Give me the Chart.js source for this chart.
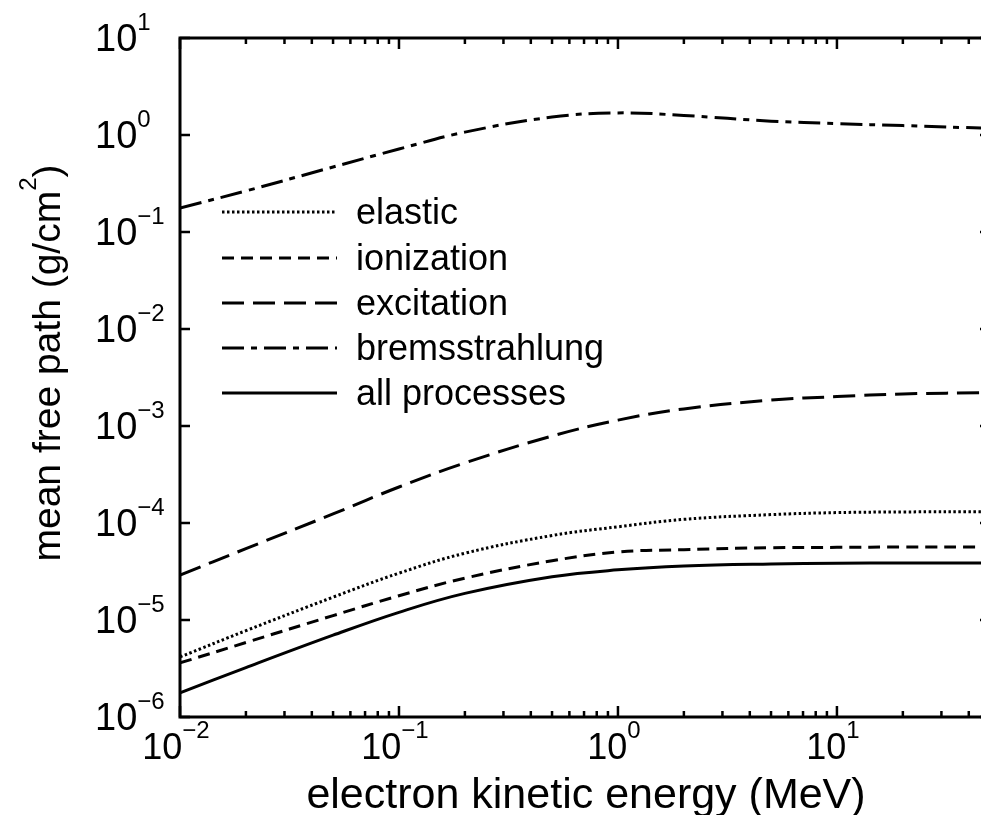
<!DOCTYPE html>
<html>
<head>
<meta charset="utf-8">
<script src="https://cdn.jsdelivr.net/npm/chart.js@4.4.0/dist/chart.umd.min.js"></script>
<style>
    html, body { margin: 0; padding: 0; overflow: hidden; background: #fff; }
    #wrap { width: 981px; height: 815px; overflow: hidden; position: relative; }
    canvas { position: absolute; left: 0; top: 0; }
</style>
</head>
<body>
<div id="wrap"><canvas id="mfpChart" width="1000" height="815" style="width:1000px;height:815px"></canvas></div>
<script>
const energy = [0.01, 0.02, 0.05, 0.1, 0.2, 0.5, 1, 2, 5, 10, 20, 50];
const elastic = [4.16e-6, 7.76e-6, 1.72e-5, 3.04e-5, 4.88e-5, 7.43e-5, 9.14e-5, 1.09e-4, 1.22e-4, 1.28e-4, 1.30e-4, 1.31e-4];
const ionization = [3.61e-6, 5.86e-6, 1.11e-5, 1.78e-5, 2.70e-5, 4.08e-5, 5.02e-5, 5.31e-5, 5.56e-5, 5.61e-5, 5.66e-5, 5.66e-5];
const excitation = [2.91e-5, 5.44e-5, 1.24e-4, 2.35e-4, 4.16e-4, 7.88e-4, 1.15e-3, 1.50e-3, 1.85e-3, 2.01e-3, 2.14e-3, 2.21e-3];
const bremsstrahlung = [0.177, 0.265, 0.468, 0.717, 1.07, 1.53, 1.69, 1.59, 1.39, 1.31, 1.25, 1.17];
const allProcesses = [1.77e-6, 3.23e-6, 6.97e-6, 1.20e-5, 1.88e-5, 2.79e-5, 3.29e-5, 3.60e-5, 3.78e-5, 3.84e-5, 3.87e-5, 3.87e-5];

const xTickExps = [-2, -1, 0, 1];
const yTickExps = [-6, -5, -4, -3, -2, -1, 0, 1];

const FONT = '"Liberation Sans", Arial, Helvetica, sans-serif';

function pts(values) {
    return energy.map((e, i) => ({ x: e, y: values[i] }));
}

function expText(n) {
    return n < 0 ? '\u2212' + Math.abs(n) : String(n);
}

const frame = {
    id: 'frame',
    afterDraw(chart) {
        const ctx = chart.ctx;
        const a = chart.chartArea;
        const xs = chart.scales.x;
        const ys = chart.scales.y;
        ctx.save();
        ctx.strokeStyle = '#000';
        ctx.fillStyle = '#000';
        ctx.lineWidth = 3;
        ctx.strokeRect(a.left, a.top, a.right - a.left, a.bottom - a.top);

        // x ticks, bottom and top, pointing inward
        ctx.lineWidth = 2.5;
        for (let d = -2; d <= 1; d++) {
            for (let m = 1; m <= 9; m++) {
                const v = m * Math.pow(10, d);
                if (v > 50) break;
                const px = xs.getPixelForValue(v);
                const len = m === 1 ? 11 : 6;
                ctx.beginPath();
                ctx.moveTo(px, a.bottom);
                ctx.lineTo(px, a.bottom - len);
                ctx.moveTo(px, a.top);
                ctx.lineTo(px, a.top + len);
                ctx.stroke();
            }
        }
        // y ticks, left and right
        yTickExps.forEach(n => {
            const py = ys.getPixelForValue(Math.pow(10, n));
            ctx.beginPath();
            ctx.moveTo(a.left, py);
            ctx.lineTo(a.left + 10, py);
            ctx.moveTo(a.right, py);
            ctx.lineTo(a.right - 10, py);
            ctx.stroke();
        });

        // x tick labels
        ctx.textBaseline = 'alphabetic';
        xTickExps.forEach(n => {
            const px = xs.getPixelForValue(Math.pow(10, n));
            ctx.font = '36px ' + FONT;
            const w1 = ctx.measureText('10').width;
            ctx.font = '24px ' + FONT;
            const w2 = ctx.measureText(expText(n)).width;
            const x0 = px - (w1 + w2) / 2 - 4;
            ctx.textAlign = 'left';
            ctx.font = '36px ' + FONT;
            ctx.fillText('10', x0, 759);
            ctx.font = '24px ' + FONT;
            ctx.fillText(expText(n), x0 + w1, 738);
        });

        // y tick labels
        yTickExps.forEach(n => {
            const py = ys.getPixelForValue(Math.pow(10, n));
            ctx.textAlign = 'left';
            ctx.font = '38px ' + FONT;
            const w1 = ctx.measureText('10').width;
            ctx.fillText('10', 95, py + 13);
            ctx.font = '24px ' + FONT;
            ctx.fillText(expText(n), 95 + w1, py - 8);
        });

        // axis titles
        ctx.font = '43px ' + FONT;
        ctx.textAlign = 'center';
        ctx.fillText('electron kinetic energy (MeV)', 586, 808);

        ctx.save();
        ctx.translate(60, 363);
        ctx.rotate(-Math.PI / 2);
        ctx.font = '39px ' + FONT;
        const t1 = 'mean free path (g/cm';
        const w1 = ctx.measureText(t1).width;
        ctx.font = '24px ' + FONT;
        const w2 = ctx.measureText('2').width;
        ctx.font = '39px ' + FONT;
        const w3 = ctx.measureText(')').width;
        let x = -(w1 + w2 + w3) / 2;
        ctx.textAlign = 'left';
        ctx.fillText(t1, x, 0);
        ctx.font = '24px ' + FONT;
        ctx.fillText('2', x + w1, -24);
        ctx.font = '39px ' + FONT;
        ctx.fillText(')', x + w1 + w2, 0);
        ctx.restore();

        // legend
        const rows = [212, 258, 303, 348, 393];
        chart.data.datasets.forEach((ds, i) => {
            const y = rows[i];
            ctx.save();
            ctx.lineWidth = ds.borderWidth;
            ctx.setLineDash(ds.borderDash || []);
            ctx.beginPath();
            ctx.moveTo(222, y);
            ctx.lineTo(337, y);
            ctx.stroke();
            ctx.restore();
            ctx.font = '36px ' + FONT;
            ctx.textAlign = 'left';
            ctx.fillText(ds.label, 356, y + 12);
        });
        ctx.restore();
    }
};

const ctx = document.getElementById('mfpChart').getContext('2d');
new Chart(ctx, {
    type: 'line',
    data: {
        datasets: [{
            label: 'elastic',
            data: pts(elastic),
            borderColor: '#000',
            borderWidth: 3,
            borderDash: [2.5, 2.5]
        }, {
            label: 'ionization',
            data: pts(ionization),
            borderColor: '#000',
            borderWidth: 3,
            borderDash: [12, 7]
        }, {
            label: 'excitation',
            data: pts(excitation),
            borderColor: '#000',
            borderWidth: 3,
            borderDash: [22, 9]
        }, {
            label: 'bremsstrahlung',
            data: pts(bremsstrahlung),
            borderColor: '#000',
            borderWidth: 3,
            borderDash: [22, 7, 6, 7]
        }, {
            label: 'all processes',
            data: pts(allProcesses),
            borderColor: '#000',
            borderWidth: 3,
            borderDash: []
        }]
    },
    options: {
        responsive: false,
        animation: false,
        layout: {
            padding: { left: 180, top: 38, right: 10, bottom: 98 }
        },
        elements: {
            point: { radius: 0 },
            line: { tension: 0.4, fill: false }
        },
        scales: {
            x: { type: 'logarithmic', min: 0.01, max: 50, display: false },
            y: { type: 'logarithmic', min: 1e-6, max: 10, display: false }
        },
        plugins: {
            legend: { display: false },
            tooltip: { enabled: false }
        }
    },
    plugins: [frame]
});
</script>
</body>
</html>
